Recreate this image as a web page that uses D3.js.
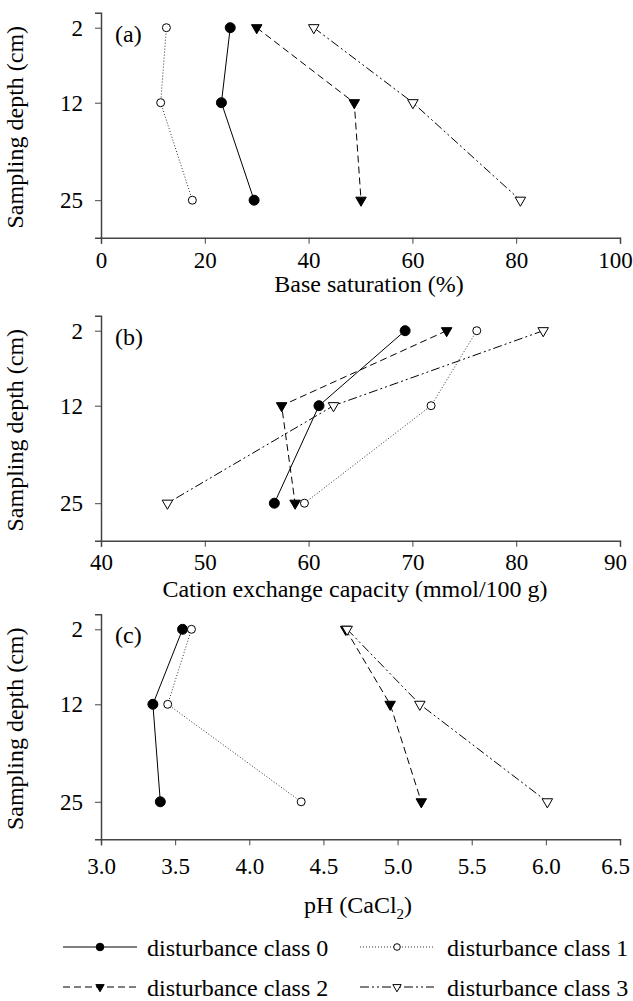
<!DOCTYPE html>
<html>
<head>
<meta charset="utf-8">
<script src="https://cdn.jsdelivr.net/npm/d3@7"></script>
<style>
  body { margin: 0; background: #fff; }
  svg { display: block; font-family: "Liberation Serif", "Times New Roman", serif; }
</style>
</head>
<body>
<div id="chart"></div>
<script>
// depth of each sample (cm)
var depths = [2, 12, 25];
var depthTicks = [2, 12, 25];
var classNames = ["disturbance class 0", "disturbance class 1", "disturbance class 2", "disturbance class 3"];

// one row per disturbance class, values at 2 / 12 / 25 cm
var baseSat = [
    [24.9, 23.2, 29.5],
    [12.6, 11.5, 17.6],
    [30.0, 48.8, 50.1],
    [41.0, 60.1, 80.8]
];
var cec = [
    [69.3, 61.0, 56.7],
    [76.2, 71.8, 59.6],
    [73.3, 57.4, 58.7],
    [82.6, 62.4, 46.4]
];
var phCaCl2 = [
    [3.55, 3.35, 3.40],
    [3.61, 3.45, 4.35],
    [4.65, 4.95, 5.16],
    [4.66, 5.15, 6.01]
];
var baseSatTicks = [0, 20, 40, 60, 80, 100];
var cecTicks = [40, 50, 60, 70, 80, 90];
var phTicks = [3.0, 3.5, 4.0, 4.5, 5.0, 5.5, 6.0, 6.5];

var width = 633, height = 1001;
var left = 101, right = 620, plotH = 225;

// line / marker style per class
var styles = [
    { dash: null, marker: "circle", fill: "#000" },
    { dash: "1,2", marker: "circle", fill: "#fff" },
    { dash: "7,4", marker: "triangle", fill: "#000" },
    { dash: "9,3,2,3,2,3", marker: "triangle", fill: "#fff" }
];

var panels = [
    { data: baseSat, domain: [0, 100], ticks: baseSatTicks, fmt: d3.format("d"), top: 12.7,
      letter: "(a)", title: "Base saturation (%)", titleX: 369, titleY: 292, pad: 8 },
    { data: cec, domain: [40, 90], ticks: cecTicks, fmt: d3.format("d"), top: 315.7,
      letter: "(b)", title: "Cation exchange capacity (mmol/100 g)", titleX: 355, titleY: 597, pad: 7 },
    { data: phCaCl2, domain: [3, 6.5], ticks: phTicks, fmt: d3.format(".1f"), top: 614.3,
      letter: "(c)", title: null, titleX: 358, titleY: 913, pad: 12 }
];

var svg = d3.select("#chart").append("svg")
    .attr("width", width)
    .attr("height", height);

svg.append("rect").attr("width", width).attr("height", height).attr("fill", "#fff");

function drawMarker(g, x, y, st, big) {
    if (st.marker == "circle") {
        var r = big ? (st.fill == "#000" ? 5 : 4) : (st.fill == "#000" ? 3.8 : 3.3);
        g.append("circle")
            .attr("cx", x).attr("cy", y).attr("r", r)
            .attr("fill", st.fill)
            .attr("stroke", "#000").attr("stroke-width", 1);
    } else {
        g.append("path")
            .attr("d", d3.symbol().type(d3.symbolTriangle).size(big ? 48 : 30)())
            .attr("transform", "translate(" + x + "," + y + ") rotate(180)")
            .attr("fill", st.fill)
            .attr("stroke", "#000").attr("stroke-width", 1);
    }
}

panels.forEach(function (p) {
    var x = d3.scaleLinear().domain(p.domain).range([left, right]);
    var y = d3.scaleLinear().domain([0, 30]).range([p.top, p.top + plotH]);
    var g = svg.append("g");

    // x axis
    var xa = g.append("g")
        .attr("transform", "translate(0," + (p.top + plotH) + ")")
        .call(d3.axisBottom(x).tickValues(p.ticks).tickFormat(p.fmt).tickSizeOuter(0).tickSize(6).tickPadding(p.pad));
    // y axis
    var ya = g.append("g")
        .attr("transform", "translate(" + left + ",0)")
        .call(d3.axisLeft(y).tickValues(depthTicks).tickSizeOuter(0).tickSize(6).tickPadding(12));
    [xa, ya].forEach(function (a) {
        a.select(".domain").attr("stroke", "#444").attr("stroke-width", 1.5);
        a.selectAll(".tick line").attr("stroke", "#444").attr("stroke-width", 1);
        a.selectAll(".tick text").attr("fill", "#000")
            .style("font-family", "Liberation Serif").style("font-size", "23px");
    });
    // last label sits a bit to the left so it stays inside the page
    xa.selectAll(".tick text").filter(function (d, i, n) { return i == n.length - 1; })
        .attr("x", -5);

    // axis titles
    g.append("text")
        .attr("transform", "translate(23," + (p.top + plotH / 2 + 2) + ") rotate(-90)")
        .attr("text-anchor", "middle")
        .style("font-size", "24px")
        .text("Sampling depth (cm)");

    var t = g.append("text")
        .attr("x", p.titleX).attr("y", p.titleY)
        .attr("text-anchor", "middle")
        .style("font-size", "24px");
    if (p.title) {
        t.text(p.title);
    } else {
        t.append("tspan").text("pH (CaCl");
        t.append("tspan").attr("dy", 6).style("font-size", "15px").text("2");
        t.append("tspan").attr("dy", -6).text(")");
    }

    g.append("text")
        .attr("x", 115).attr("y", y(2) + 14)
        .style("font-size", "24px")
        .text(p.letter);

    // series
    var line = d3.line()
        .x(function (d) { return x(d[0]); })
        .y(function (d) { return y(d[1]); });

    p.data.forEach(function (vals, i) {
        var st = styles[i];
        var pts = vals.map(function (v, j) { return [v, depths[j]]; });
        g.append("path")
            .datum(pts)
            .attr("d", line)
            .attr("fill", "none")
            .attr("stroke", i == 1 ? "#333" : "#000")
            .attr("stroke-width", 1)
            .attr("stroke-dasharray", st.dash);
        pts.forEach(function (d) {
            drawMarker(g, x(d[0]), y(d[1]), st, true);
        });
    });
});

// legend, two columns x two rows
var legPos = [
    { x1: 63, x2: 137, tx: 147, y: 947 },
    { x1: 360, x2: 434, tx: 447, y: 947 },
    { x1: 63, x2: 137, tx: 147, y: 987 },
    { x1: 360, x2: 434, tx: 447, y: 987 }
];
var leg = svg.append("g");
classNames.forEach(function (name, i) {
    var lp = legPos[i], st = styles[i];
    leg.append("line")
        .attr("x1", lp.x1).attr("x2", lp.x2)
        .attr("y1", lp.y).attr("y2", lp.y)
        .attr("stroke", i == 1 ? "#333" : "#000")
        .attr("stroke-width", 1)
        .attr("stroke-dasharray", st.dash);
    drawMarker(leg, (lp.x1 + lp.x2) / 2, lp.y, st, false);
    leg.append("text")
        .attr("x", lp.tx).attr("y", lp.y + 8.5)
        .style("font-size", "24px")
        .text(name);
});
</script>
</body>
</html>
